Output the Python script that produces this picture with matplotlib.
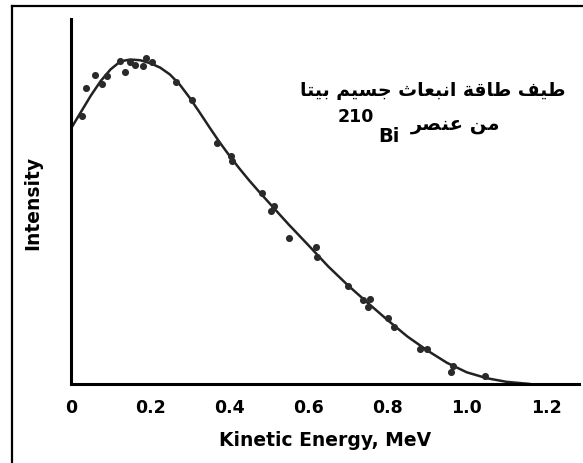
import matplotlib
matplotlib.use("Agg")
import matplotlib.pyplot as plt
from matplotlib.lines import Line2D

# ---- data ----
energy_pts = [0.027, 0.038, 0.061, 0.078, 0.090, 0.124, 0.136, 0.149, 0.162, 0.183,
              0.189, 0.204, 0.265, 0.305, 0.370, 0.403, 0.406, 0.482, 0.513, 0.505,
              0.552, 0.619, 0.622, 0.701, 0.739, 0.755, 0.751, 0.802, 0.816, 0.882,
              0.899, 0.966, 0.959, 1.046]
intensity_pts = [0.733, 0.810, 0.847, 0.822, 0.843, 0.886, 0.854, 0.881, 0.874, 0.870,
                 0.892, 0.881, 0.828, 0.778, 0.660, 0.625, 0.612, 0.523, 0.487, 0.473,
                 0.400, 0.375, 0.347, 0.268, 0.231, 0.233, 0.210, 0.180, 0.155, 0.097,
                 0.096, 0.048, 0.032, 0.023]

energy_curve = [0.0, 0.025, 0.05, 0.075, 0.10, 0.125, 0.15, 0.175, 0.20, 0.225, 0.25,
                0.275, 0.30, 0.325, 0.35, 0.375, 0.40, 0.425, 0.45, 0.475, 0.50, 0.55,
                0.60, 0.65, 0.70, 0.75, 0.80, 0.85, 0.90, 0.95, 1.00, 1.05, 1.10, 1.16]
intensity_curve = [0.70, 0.745, 0.79, 0.83, 0.862, 0.884, 0.889, 0.887, 0.879, 0.867,
                   0.848, 0.820, 0.784, 0.744, 0.703, 0.663, 0.626, 0.591, 0.558, 0.527,
                   0.497, 0.437, 0.380, 0.322, 0.270, 0.222, 0.175, 0.130, 0.092, 0.058,
                   0.032, 0.016, 0.006, 0.0]

xticks = [0, 0.2, 0.4, 0.6, 0.8, 1.0, 1.2]
xtick_labels = ["0", "0.2", "0.4", "0.6", "0.8", "1.0", "1.2"]

x_label = "Kinetic Energy, MeV"
y_label = "Intensity"
title_line1 = "طيف طاقة انبعاث جسيم بيتا"
title_line2 = "من عنصر"
isotope_mass = "210"
isotope_symbol = "Bi"

# ---- minimal Arabic shaping (presentation forms, visual order) ----
FORMS = {  # isolated, final, initial, medial
    'ا': ('\uFE8D', '\uFE8E', None, None),
    'ب': ('\uFE8F', '\uFE90', '\uFE91', '\uFE92'),
    'ة': ('\uFE93', '\uFE94', None, None),
    'ت': ('\uFE95', '\uFE96', '\uFE97', '\uFE98'),
    'ث': ('\uFE99', '\uFE9A', '\uFE9B', '\uFE9C'),
    'ج': ('\uFE9D', '\uFE9E', '\uFE9F', '\uFEA0'),
    'ر': ('\uFEAD', '\uFEAE', None, None),
    'س': ('\uFEB1', '\uFEB2', '\uFEB3', '\uFEB4'),
    'ص': ('\uFEB9', '\uFEBA', '\uFEBB', '\uFEBC'),
    'ط': ('\uFEC1', '\uFEC2', '\uFEC3', '\uFEC4'),
    'ع': ('\uFEC9', '\uFECA', '\uFECB', '\uFECC'),
    'ف': ('\uFED1', '\uFED2', '\uFED3', '\uFED4'),
    'ق': ('\uFED5', '\uFED6', '\uFED7', '\uFED8'),
    'م': ('\uFEE1', '\uFEE2', '\uFEE3', '\uFEE4'),
    'ن': ('\uFEE5', '\uFEE6', '\uFEE7', '\uFEE8'),
    'ي': ('\uFEF1', '\uFEF2', '\uFEF3', '\uFEF4'),
}


def shape(text):
    out = []
    n = len(text)
    for i, ch in enumerate(text):
        if ch not in FORMS:
            out.append(ch)
            continue
        prev = text[i - 1] if i > 0 else None
        nxt = text[i + 1] if i < n - 1 else None
        f = FORMS[ch]
        join_prev = prev in FORMS and FORMS[prev][2] is not None
        join_next = f[2] is not None and nxt in FORMS
        if join_prev and join_next:
            out.append(f[3])
        elif join_prev:
            out.append(f[1])
        elif join_next:
            out.append(f[2])
        else:
            out.append(f[0])
    return "".join(out)[::-1]


W, H = 583, 464
fig = plt.figure(figsize=(W / 100, H / 100), dpi=100)
fig.patch.set_facecolor("white")

ax = fig.add_axes([71 / W, 1 - 385 / H, (579 - 71) / W, (385 - 20) / H])
ax.plot(energy_curve, intensity_curve, color="#222222", lw=1.8, zorder=2,
        solid_capstyle="round", solid_joinstyle="round")
ax.scatter(energy_pts, intensity_pts, s=26, color="#2a2a2a", zorder=3, linewidths=0)

ax.set_xlim(0, (579 - 71) / 395.8)
ax.set_ylim(0, 1.0)
for side in ("top", "right"):
    ax.spines[side].set_visible(False)
for side in ("left", "bottom"):
    ax.spines[side].set_linewidth(2.2)
    ax.spines[side].set_color("black")
ax.set_yticks([])
ax.set_xticks(xticks)
ax.set_xticklabels(xtick_labels, fontsize=12.5, fontweight="bold",
                   family="DejaVu Sans")
ax.tick_params(axis="x", length=0, pad=10)
ax.set_xlabel(x_label, fontsize=13.5, fontweight="bold", labelpad=10)
ax.set_ylabel(y_label, fontsize=13.5, fontweight="bold", labelpad=21)

# title text
fig.text(433 / W, 1 - 90 / H, shape(title_line1), ha="center", va="center",
         fontsize=13.5, fontweight="bold", family="DejaVu Sans")
fig.text(456 / W, 1 - 125 / H, shape(title_line2), ha="center", va="center",
         fontsize=14, fontweight="bold", family="DejaVu Sans")
fig.text(356 / W, 1 - 117 / H, isotope_mass, ha="center", va="center",
         fontsize=12.5, fontweight="bold")
fig.text(389 / W, 1 - 136 / H, isotope_symbol, ha="center", va="center",
         fontsize=14, fontweight="bold")

# outer frame (left and top edges)
fig.add_artist(Line2D([12 / W, 12 / W], [0, 1 - 7 / H], color="black", lw=1.6,
                      transform=fig.transFigure))
fig.add_artist(Line2D([12 / W, 1], [1 - 7 / H, 1 - 7 / H], color="black", lw=1.6,
                      transform=fig.transFigure))

fig.savefig("out.png", dpi=100, facecolor="white")
